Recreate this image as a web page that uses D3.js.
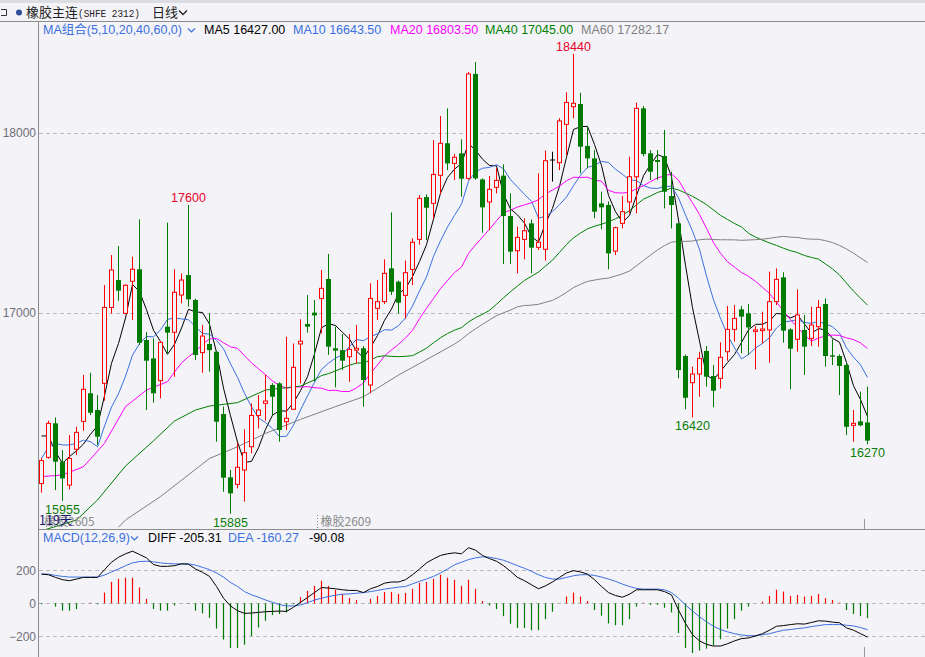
<!DOCTYPE html>
<html lang="zh">
<head>
<meta charset="UTF-8">
<title>橡胶主连 日线</title>
<style>
body{margin:0;background:#f4f4f8;}
text{font-family:"Liberation Sans",Arial,"Noto Sans CJK SC",sans-serif;}
.cjk{font-family:"Noto Sans CJK SC","Liberation Sans",sans-serif;}
</style>
</head>
<body>
<script src="https://d3js.org/d3.v7.min.js"></script>
<script>
// 日K数据 (从图上读取, 119根)
var opens = [16053,16198,16387,16174,16044,16243,16398,16554,16461,16609,17031,17183,16998,17176,17243,16850,16748,16624,16924,16893,
17100,17211,17072,16780,16828,16785,16439,16087,16048,16128,16257,16431,16498,16600,16609,16396,16465,16828,16939,17002,
17081,17189,16804,16794,16757,16794,16804,16600,17026,17063,17248,17174,17098,17242,17409,17644,17609,17765,17943,17831,
17887,17748,18328,17742,17617,17698,17763,17539,17346,17409,17498,17365,17354,17850,17835,18048,18146,18161,17928,17859,
17609,17600,17344,17498,17617,17757,18137,17887,17850,17872,17650,17498,16761,16613,16661,16789,16650,16637,16785,16909,
17020,16998,16898,16902,16906,17063,17198,16909,16854,16906,16859,16924,17050,16765,16761,16711,16376,16398,16392];
var highs = [16195,16402,16420,16239,16322,16368,16656,16668,16544,17155,17322,17372,17160,17313,17520,16894,16859,16845,17502,17243,
17220,17600,17080,16933,16998,16790,16480,16128,16276,16354,16498,16544,16656,16610,16615,16868,16831,16965,17100,17072,
17239,17328,16924,16883,16883,16933,16817,17165,17183,17298,17559,17180,17291,17415,17655,17659,17961,18094,18137,17883,
17965,18339,18394,17748,17761,17804,17826,17665,17480,17526,17520,17776,17902,17896,18082,18226,18440,18224,18035,17905,
17674,17620,17480,17650,17868,18169,18150,17905,17905,18017,17785,17500,16770,16702,16785,16817,16711,16837,17039,17044,
17039,17050,16928,17007,17230,17248,17226,16915,17131,16989,17035,17072,17081,16854,16770,16720,16461,16563,16591];
var lows = [16002,16190,16016,15955,16020,16211,16346,16433,16267,16513,16998,17068,16998,16961,16822,16461,16502,16526,16776,16646,
17054,17035,16739,16668,16674,16285,16007,15885,16026,15952,16220,16359,16402,16433,16285,16350,16465,16609,16891,16620,
16887,16767,16587,16683,16618,16720,16480,16554,16961,17050,17100,16998,16970,17155,17380,17405,17526,17661,17794,17739,
17646,17740,17740,17446,17461,17665,17272,17272,17220,17298,17220,17350,17291,17730,17794,17878,18082,17776,17804,17526,
17465,17243,17322,17470,17554,17554,17870,17739,17739,17581,17470,16637,16465,16420,16535,16591,16476,16581,16735,16841,
16776,16767,16687,16831,16724,17044,16835,16576,16785,16656,16817,16813,16702,16711,16544,16322,16285,16370,16270];
var closes = [16180,16387,16174,16081,16192,16337,16576,16446,16313,17031,17239,17124,17154,17243,16835,16735,16554,16837,16891,17115,
17183,17076,16767,16872,16794,16396,16085,15998,16143,16224,16431,16461,16511,16535,16350,16415,16698,16843,16924,16987,
17137,16813,16791,16735,16798,16804,16628,17081,17063,17220,17118,17057,17224,17393,17637,17585,17770,17943,17831,17865,
17746,18328,17748,17587,17687,17737,17539,17341,17420,17457,17363,17393,17846,17850,18067,18170,18165,17924,17859,17563,
17587,17331,17474,17563,17757,18137,17883,17785,17839,17674,17600,16683,16529,16661,16748,16646,16568,16754,16909,16970,
16980,16920,16906,16911,17063,17187,16902,16802,16989,16813,16933,17031,16761,16757,16706,16368,16387,16376,16291];

// 均线开头部分 (数据窗口之前的历史, 从图上读取) [序号, 值]
var ma5Head = [[0,16317],[1,16317],[2,16229],[3,16165]];
var ma10Head = [[0,16192],[1,16257],[2,16276],[3,16267],[4,16267],[5,16276],[6,16294],[7,16285],[8,16257]];
var ma20Head = [[0,16091],[3,16100],[6,16146],[9,16276],[12,16480],[15,16572],[18,16618]];
var ma40Head = [[0,15790],[5,15850],[8,15961],[12,16150],[16,16290],[19,16400],[22,16461],[24,16483],[28,16502],[32,16572],[37,16594]];
var ma60Head = [[11,15810],[12,15850],[17,15980],[24,16192],[28,16257],[32,16331],[37,16409],[42,16480],[46,16535],[51,16655]];

// MACD
var macdBars = [-6,0,-20,-45,-45,-35,0,4,-6,65,130,149,155,155,96,27,-35,-45,-45,-14,
0,-4,-45,-61,-88,-153,-220,-271,-271,-251,-198,-147,-106,-71,-65,-55,-6,37,75,106,
137,106,82,55,33,20,0,27,45,69,69,57,63,88,124,130,149,173,155,143,
106,143,88,14,-14,-35,-78,-124,-149,-149,-163,-163,-96,-51,0,41,65,41,14,-41,
-75,-122,-133,-133,-96,-20,4,-10,-10,-27,-55,-180,-271,-302,-286,-275,-255,-218,-153,-96,
-45,-20,0,10,45,82,71,45,51,41,45,57,31,20,4,-41,-65,-78,-90];
var diffLine = [177,173,157,143,137,147,157,157,157,204,249,279,300,316,296,275,235,224,224,228,
239,237,208,188,163,102,31,-16,-45,-61,-59,-55,-51,-49,-47,-49,-24,6,35,65,
96,92,88,82,78,78,65,88,102,122,129,129,143,173,208,245,269,290,300,306,
300,337,322,290,271,255,228,194,157,137,112,88,106,129,157,184,198,190,177,143,
102,65,47,37,55,82,82,82,82,71,51,-41,-122,-190,-228,-249,-259,-259,-245,-228,
-214,-210,-198,-184,-163,-139,-135,-129,-124,-126,-116,-106,-108,-114,-118,-149,-163,-184,-205];
var deaLine = [177,177,169,163,159,159,159,159,159,171,190,208,228,245,253,255,251,245,241,239,
239,239,231,218,204,184,159,126,102,71,51,37,20,6,-8,-16,-16,-10,4,20,
31,41,49,55,57,61,65,71,78,86,92,98,102,118,133,147,163,184,208,233,
249,265,275,282,279,271,261,245,228,212,194,173,157,147,147,157,167,173,173,169,
159,147,133,116,102,90,86,86,86,82,65,31,-10,-47,-82,-112,-139,-159,-173,-184,
-192,-196,-196,-190,-184,-173,-163,-159,-153,-149,-141,-135,-129,-129,-129,-133,-137,-147,-160];

var yTicks = [17000, 18000];
var macdTicks = [200, 0, -200];
var maLegend = [["MA5 16427.00","#000000"],["MA10 16643.50","#3b6fe0"],["MA20 16803.50","#ff00ff"],["MA40 17045.00","#008000"],["MA60 17282.17","#808080"]];
var macdLegend = [["DIFF -205.31","#000000"],["DEA -160.27","#3b6fe0"],["-90.08","#000000"]];
var extremes = [[21,"high","17600"],[76,"high","18440"],[3,"low","15955"],[27,"low","15885"],[93,"low","16420"],[118,"low","16270"]];
var contracts = [[0,"橡胶2605"],[40,"橡胶2609"]];

var W = 925, H = 657;
var UP = "#ff0000", DOWN = "#007a00", BG = "#f4f4f8";
var maColors = ["#000000","#3b6fe0","#ff00ff","#008000","#808080"];

var svg = d3.select("body").append("svg").attr("width", W).attr("height", H);
svg.append("rect").attr("width", W).attr("height", H).attr("fill", BG);
svg.append("rect").attr("width", W).attr("height", 3).attr("fill", "#dcdce3");

var n = closes.length;
var x = d3.scaleBand().domain(d3.range(n)).range([38, 871]).paddingInner(0.3).paddingOuter(0.15);
function cx(i){ return x(i) + x.bandwidth()/2; }
var y = d3.scaleLinear().domain([17000, 18000]).range([313, 133]);
var ym = d3.scaleLinear().domain([-200, 200]).range([636.3, 570.3]);

// 标题
svg.append("path").attr("d","M1,9.5H6.5V15.5H1").attr("fill","none").attr("stroke","#333");
svg.append("circle").attr("cx",19).attr("cy",12.5).attr("r",3).attr("fill","#2f4f9a");
var tt = svg.append("text").attr("x",26).attr("y",17).attr("font-size",13).attr("fill","#222");
tt.append("tspan").attr("class","cjk").text("橡胶主连");
tt.append("tspan").attr("font-family","Liberation Mono,monospace").attr("font-size",11.5)
  .attr("textLength",62).attr("lengthAdjust","spacingAndGlyphs").text("(SHFE 2312)");
svg.append("text").attr("class","cjk").attr("x",152).attr("y",17).attr("font-size",13).attr("fill","#222").text("日线");
svg.append("path").attr("d","M179,10.5l4,4l4,-4").attr("fill","none").attr("stroke","#222").attr("stroke-width",1.3);

// 框线
svg.append("line").attr("x1",0).attr("x2",W).attr("y1",21.5).attr("y2",21.5).attr("stroke","#8c8c8c");
svg.append("line").attr("x1",38.5).attr("x2",38.5).attr("y1",21).attr("y2",H).attr("stroke","#8c8c8c");
svg.append("line").attr("x1",38).attr("x2",W).attr("y1",529.5).attr("y2",529.5).attr("stroke","#8c8c8c");

// 网格
svg.selectAll(".grid").data(yTicks).enter().append("line")
  .attr("x1",39).attr("x2",W).attr("y1",d=>Math.round(y(d))+0.5).attr("y2",d=>Math.round(y(d))+0.5)
  .attr("stroke","#b9b9bd").attr("stroke-dasharray","4,3");
svg.selectAll(".mgrid").data(macdTicks).enter().append("line")
  .attr("x1",39).attr("x2",W).attr("y1",d=>Math.round(ym(d))+0.5).attr("y2",d=>Math.round(ym(d))+0.5)
  .attr("stroke","#b9b9bd").attr("stroke-dasharray","4,3");

// 坐标轴
var ax = svg.append("g").attr("transform","translate(36,0)").call(d3.axisLeft(y).tickValues(yTicks).tickSize(0).tickPadding(0).tickFormat(d3.format("d")));
ax.select(".domain").remove();
ax.selectAll("text").attr("font-size",12).attr("fill","#6e6e78").attr("font-family","Liberation Sans,Arial,sans-serif");
var axm = svg.append("g").attr("transform","translate(36,0)").call(d3.axisLeft(ym).tickValues(macdTicks).tickSize(0).tickPadding(0).tickFormat(d3.format("d")));
axm.select(".domain").remove();
axm.selectAll("text").attr("font-size",12).attr("fill","#6e6e78").attr("font-family","Liberation Sans,Arial,sans-serif");

// 裁剪
var defs = svg.append("defs");
defs.append("clipPath").attr("id","mainClip").append("rect").attr("x",39).attr("y",22).attr("width",W-39).attr("height",507);
defs.append("clipPath").attr("id","macdClip").append("rect").attr("x",39).attr("y",530).attr("width",W-39).attr("height",H-530);

var main = svg.append("g").attr("clip-path","url(#mainClip)");

// 均线
function maPoints(period, head){
  var pts = head.slice();
  for (var i = period - 1; i < n; i++) {
    pts.push([i, d3.mean(closes.slice(i - period + 1, i + 1))]);
  }
  return pts;
}
var maSeries = [maPoints(5, ma5Head), maPoints(10, ma10Head), maPoints(20, ma20Head), maPoints(40, ma40Head), maPoints(60, ma60Head)];
var maLine = d3.line().x(d=>cx(d[0])).y(d=>y(d[1]));
main.selectAll(".ma").data(maSeries).enter().append("path")
  .attr("d", maLine).attr("fill","none").attr("stroke",(d,i)=>maColors[i]).attr("stroke-width",1);

// K线
var candles = d3.range(n).map(i=>({i:i,o:opens[i],h:highs[i],l:lows[i],c:closes[i]}));
function col(d){ return d.c > d.o ? UP : (d.c < d.o ? DOWN : "#000"); }
var cg = main.selectAll(".k").data(candles).enter().append("g");
cg.append("line").attr("x1",d=>Math.floor(cx(d.i))+0.5).attr("x2",d=>Math.floor(cx(d.i))+0.5)
  .attr("y1",d=>y(d.h)).attr("y2",d=>y(d.l)).attr("stroke",col);
cg.filter(d=>d.c !== d.o).append("rect")
  .attr("x",d=> d.c > d.o ? Math.floor(cx(d.i))-1.5 : Math.floor(cx(d.i))-2)
  .attr("width",d=> d.c > d.o ? 4 : 5)
  .attr("y",d=>y(Math.max(d.o,d.c)))
  .attr("height",d=>Math.max(1, Math.abs(y(d.o)-y(d.c))))
  .attr("fill",d=> d.c > d.o ? BG : DOWN)
  .attr("stroke",d=> d.c > d.o ? UP : "none");
cg.filter(d=>d.c === d.o).append("line")
  .attr("x1",d=>Math.floor(cx(d.i))-2).attr("x2",d=>Math.floor(cx(d.i))+3)
  .attr("y1",d=>y(d.c)).attr("y2",d=>y(d.c)).attr("stroke","#000");

// 最高/最低标注
svg.selectAll(".ext").data(extremes).enter().append("text")
  .attr("x",d=>cx(d[0])).attr("y",d=> d[1]==="high" ? y(highs[d[0]])-3 : y(lows[d[0]])+13)
  .attr("text-anchor","middle").attr("font-size",12.5)
  .attr("fill",d=> d[1]==="high" ? "#e8002a" : "#0a7d0a").text(d=>d[2]);

// 合约切换标记
svg.selectAll(".ct").data(contracts).enter().append("text").attr("class","cjk")
  .attr("x",d=> d[0]===0 ? 44 : cx(d[0]) - 1).attr("y",526).attr("font-size",12).attr("fill","#8a8a8a").text(d=>d[1]);
svg.append("line").attr("x1",Math.floor(cx(40))-3.5).attr("x2",Math.floor(cx(40))-3.5).attr("y1",515).attr("y2",528)
  .attr("stroke","#888").attr("stroke-dasharray","1,2");
svg.append("text").attr("class","cjk").attr("x",39).attr("y",525).attr("font-size",12.5).attr("fill","#1c1c6e").text("119天");
svg.append("line").attr("x1",Math.floor(cx(n-1))-2.5).attr("x2",Math.floor(cx(n-1))-2.5).attr("y1",519).attr("y2",529).attr("stroke","#999");
svg.append("line").attr("x1",Math.floor(cx(n-1))-2.5).attr("x2",Math.floor(cx(n-1))-2.5).attr("y1",647).attr("y2",H).attr("stroke","#999");

// 图例
var lg = svg.append("text").attr("x",43).attr("y",34).attr("font-size",12.5);
lg.append("tspan").attr("fill","#3b6fe0").text("MA");
lg.append("tspan").attr("fill","#3b6fe0").attr("class","cjk").text("组合");
lg.append("tspan").attr("fill","#3b6fe0").text("(5,10,20,40,60,0)");
svg.append("path").attr("d","M188,28.5l3.5,3.5l3.5,-3.5").attr("fill","none").attr("stroke","#3b6fe0").attr("stroke-width",1.2);
var maX = [204, 293, 390, 485, 581];
svg.selectAll(".mal").data(maLegend).enter().append("text")
  .attr("x",(d,i)=>maX[i]).attr("y",34).attr("font-size",12.5).attr("fill",d=>d[1]).text(d=>d[0]);

svg.append("text").attr("x",43).attr("y",542).attr("font-size",12.5).attr("fill","#3b6fe0").text("MACD(12,26,9)");
svg.append("path").attr("d","M131,536.5l3.5,3.5l3.5,-3.5").attr("fill","none").attr("stroke","#3b6fe0").attr("stroke-width",1.2);
var mX = [148, 228, 309];
svg.selectAll(".mcl").data(macdLegend).enter().append("text")
  .attr("x",(d,i)=>mX[i]).attr("y",542).attr("font-size",12.5).attr("fill",d=>d[1]).text(d=>d[0]);

// MACD
var mg = svg.append("g").attr("clip-path","url(#macdClip)");
mg.selectAll(".bar").data(macdBars).enter().append("line")
  .attr("x1",(d,i)=>Math.floor(cx(i))+0.5).attr("x2",(d,i)=>Math.floor(cx(i))+0.5)
  .attr("y1",ym(0)).attr("y2",d=>ym(d)).attr("stroke",d=> d >= 0 ? UP : DOWN).attr("stroke-width",1.2);
var mLine = d3.line().x((d,i)=>cx(i)).y(d=>ym(d));
mg.append("path").attr("d",mLine(deaLine)).attr("fill","none").attr("stroke","#3b6fe0");
mg.append("path").attr("d",mLine(diffLine)).attr("fill","none").attr("stroke","#000");
</script>
</body>
</html>
